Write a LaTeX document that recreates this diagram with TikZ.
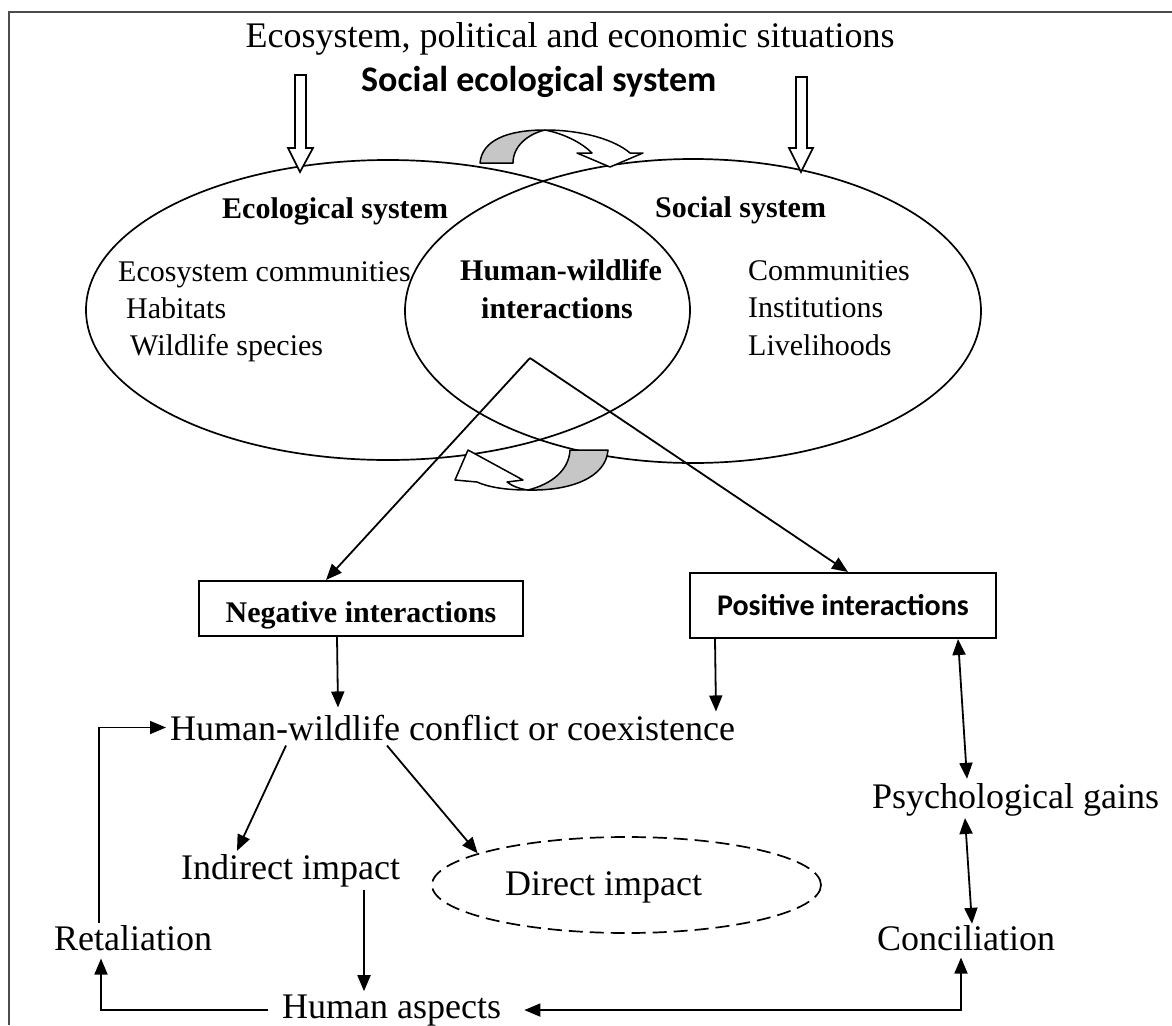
\documentclass[tikz,border=0pt]{standalone}
\usepackage{fontspec}
\setmainfont{Liberation Serif}
\newfontfamily\calib{Carlito}
\usetikzlibrary{shapes.geometric, arrows.meta}
\begin{document}
\begin{tikzpicture}[x=1pt,y=-1pt,
  arr/.style={-{Triangle[length=16pt,width=13pt]}, line width=1.8pt},
  darr/.style={{Triangle[length=16pt,width=13pt]}-{Triangle[length=16pt,width=13pt]}, line width=1.8pt},
  txt/.style={inner sep=0pt, font=\fontsize{36}{40}\selectfont},
  stxt/.style={inner sep=0pt, font=\fontsize{30}{34}\selectfont},
  btxt/.style={inner sep=0pt, font=\fontsize{30}{34}\selectfont\bfseries},
  box/.style={draw, line width=2pt, inner sep=0pt, text height=27pt, text depth=0pt},
  oval/.style={draw, ellipse, line width=1.7pt, inner sep=0pt},
  hollow/.style={draw, fill=white, line width=1.7pt, line join=miter},
  curv/.style={draw, line width=1.5pt, line join=round},
]
\useasboundingbox (0,0) rectangle (1172,1025);
\fill[white] (0,0) rectangle (1172,1025);
% frame
\draw[black!70, line width=1.3pt] (9,1025) -- (9,12) -- (1172,12);

% titles
\node[txt, anchor=base] (title) at (570,48) {Ecosystem, political and economic situations};
\node[inner sep=0pt, anchor=base west, font=\calib\bfseries\fontsize{36}{40}\selectfont] (ses) at (361,91) {Social ecological system};

% ellipses
\node[oval, minimum width=604pt, minimum height=300pt] (ecoell) at (388,310) {};
\node[oval, minimum width=576pt, minimum height=304pt] (socell) at (693,311) {};

% hollow arrows
\draw[hollow] (295,75) -- (306,75) -- (306,148) -- (313,148) -- (300,172) -- (288,148) -- (295,148) -- cycle;
\draw[hollow] (796,77) -- (807,77) -- (807,148) -- (813,148) -- (801,172) -- (789,148) -- (796,148) -- cycle;

% texts in ellipses
\node[btxt, anchor=base west] (ecolab) at (222,218) {Ecological system};
\node[btxt, anchor=base west] (soclab) at (655,217) {Social system};
\node[stxt, anchor=base west] (e1) at (118,281) {Ecosystem communities};
\node[stxt, anchor=base west] (e2) at (126,318) {Habitats};
\node[stxt, anchor=base west] (e3) at (130,355) {Wildlife species};
\node[btxt, anchor=base] (h1) at (561,280) {Human-wildlife};
\node[btxt, anchor=base] (h2) at (557,318) {interactions};
\node[stxt, anchor=base west] (s1) at (748,280) {Communities};
\node[stxt, anchor=base west] (s2) at (748,317) {Institutions};
\node[stxt, anchor=base west] (s3) at (748,355) {Livelihoods};

% curved arrows
\draw[curv, fill=gray!45] (480,163) .. controls (482,140) and (508,130) .. (545,130) .. controls (528,134) and (513,146) .. (513,163) -- cycle;
\draw[curv, fill=white] (545,130) .. controls (583,130) and (615,140) .. (630,153) -- (643,153) -- (610,167) -- (577,153) -- (592,153) .. controls (582,143) and (565,134) .. (545,130) -- cycle;
\draw[curv, fill=gray!45] (570,450) -- (608,450) .. controls (606,478) and (570,491) .. (528,490) .. controls (552,484) and (569,470) .. (570,450) -- cycle;
\draw[curv, fill=white] (528,490) .. controls (505,490) and (488,487) .. (477,482) -- (455,480) -- (468,450) -- (523,480) -- (507,482) .. controls (512,486) and (520,489) .. (528,490) -- cycle;

% interaction boxes
\coordinate (apex) at (530,358);
\node[box, minimum width=324pt, minimum height=55pt, font=\fontsize{30}{34}\selectfont\bfseries] (neg) at (361,608.5) {Negative interactions};
\node[box, minimum width=306pt, minimum height=65pt, text height=19pt, font=\calib\bfseries\fontsize{30}{34}\selectfont] (pos) at (843,605.5) {Positive interactions};
\draw[arr] (apex) -- ([xshift=128pt]neg.north west);
\draw[arr] (apex) -- ([xshift=159pt]pos.north west);

% lower texts
\node[txt, anchor=base west] (hwc) at (170,740) {Human-wildlife conflict or coexistence};
\node[txt, anchor=base west] (ind) at (181,879) {Indirect impact};
\node[oval, dashed, dash pattern=on 14pt off 7pt, minimum width=389pt, minimum height=96pt] (dell) at (626.5,885) {};
\node[txt, anchor=base west] (dir) at (505,895) {Direct impact};
\node[txt, anchor=base west] (ret) at (54,950) {Retaliation};
\node[txt, anchor=base west] (hum) at (282,1018) {Human aspects};
\node[txt, anchor=base west] (psy) at (872,808) {Psychological gains};
\node[txt, anchor=base west] (con) at (877,950) {Conciliation};

% connectors
\draw[arr] ([xshift=139pt]neg.south west) -- ([xshift=168pt,yshift=7pt]hwc.north west);
\draw[arr] ([xshift=26pt]pos.south west) -- ([xshift=546pt,yshift=3pt]hwc.north west);
\draw[arr] ([xshift=45pt,yshift=2pt]ret.north west) |- ([xshift=-4pt]hwc.west);
\draw[arr] ([xshift=116pt,yshift=-5pt]hwc.south west) -- ([xshift=56pt,yshift=3pt]ind.north west);
\draw[arr] ([xshift=217pt,yshift=-5pt]hwc.south west) -- (dell.168);
\draw[arr] ([xshift=183pt,yshift=-3pt]ind.south west) -- ([xshift=82pt,yshift=3pt]hum.north west);
\draw[arr] ([xshift=-14pt]hum.west) -| ([xshift=47pt,yshift=-8pt]ret.south west);
\draw[darr] ([xshift=84pt,yshift=-7pt]con.south west) |- ([xshift=23pt]hum.east);
\draw[darr] ([xshift=269pt]pos.south west) -- ([xshift=95pt,yshift=4pt]psy.north west);
\draw[darr] ([xshift=93pt,yshift=-2pt]psy.south west) -- ([xshift=95pt,yshift=1pt]con.north west);
\end{tikzpicture}
\end{document}
